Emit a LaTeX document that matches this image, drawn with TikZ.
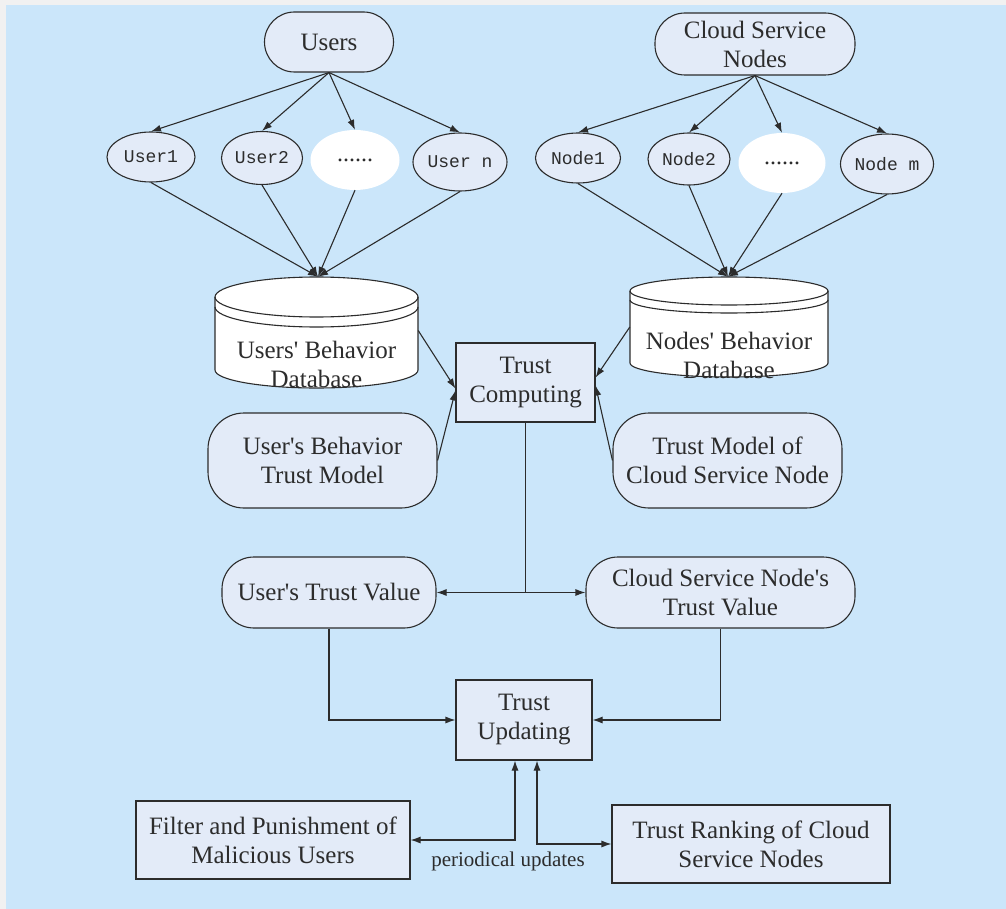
\documentclass[tikz,border=0pt]{standalone}
\usepackage{fontspec}
\setmainfont{Liberation Serif}
\newfontfamily\monofont{Liberation Mono}
\usetikzlibrary{shapes.geometric,arrows.meta,calc}

\definecolor{bgblue}{HTML}{CBE6FA}
\definecolor{frame}{HTML}{F1F1F1}
\definecolor{boxfill}{HTML}{E3EBF8}
\definecolor{ink}{HTML}{2C2C2C}
\newcommand{\q}{\textquotesingle}

\begin{document}
\begin{tikzpicture}[x=1pt,y=-1pt,
  every node/.style={inner sep=0pt, text=ink, font=\fontsize{25}{29}\selectfont, align=center},
  base/.style={draw=ink, line width=1.1pt, fill=boxfill},
  pill/.style={base, rounded corners=30pt},
  softbox/.style={base, rounded corners=36pt},
  plainbox/.style={base, rectangle},
  member/.style={base, ellipse, font=\monofont\fontsize{18}{20}\selectfont},
  gap/.style={ellipse, fill=white, font=\fontsize{24}{26}\selectfont},
  link/.style={draw=ink, line width=1.1pt},
  arr/.style={link, -{Latex[length=10pt,width=7pt]}},
  arrboth/.style={link, {Latex[length=10pt,width=7pt]}-{Latex[length=10pt,width=7pt]}},
]
\useasboundingbox (0,0) rectangle (1006,909);
% page frame and background
\fill[frame] (0,0) rectangle (1006,909);
\fill[bgblue] (6,5) rectangle (1006,909);

% ---- top groups ----
\node[pill, minimum width=129pt, minimum height=60pt] (users) at (329,42) {Users};
\node[pill, minimum width=200pt, minimum height=62pt] (cloud) at (755,44) {Cloud Service\\Nodes};

\node[member, minimum width=88pt, minimum height=50pt] (u1) at (151,157) {User1};
\node[member, minimum width=81pt, minimum height=53pt] (u2) at (262,158) {User2};
\node[gap, minimum width=89pt, minimum height=60pt] (ud) at (355,160) {......};
\node[member, minimum width=94pt, minimum height=58pt] (un) at (460,162) {User n};

\node[member, minimum width=85pt, minimum height=50pt] (n1) at (578,158) {Node1};
\node[member, minimum width=82pt, minimum height=52pt] (n2) at (689,159) {Node2};
\node[gap, minimum width=87pt, minimum height=60pt] (nd) at (782,163) {......};
\node[member, minimum width=93pt, minimum height=60pt] (nm) at (887,164) {Node m};

\foreach \t in {u1,u2,ud,un} \draw[arr] (users.south) -- (\t.north);
\foreach \t in {n1,n2,nd,nm} \draw[arr] (cloud.south) -- (\t.north);

% ---- databases ----
\filldraw[fill=white, draw=ink, line width=1.1pt]
  (215,297) -- (215,370) arc[start angle=180,end angle=360,x radius=101.5pt,y radius=18pt]
  -- (418,297) arc[start angle=0,end angle=180,x radius=101.5pt,y radius=20pt] -- cycle;
\draw[link] (215,297) arc[start angle=180,end angle=360,x radius=101.5pt,y radius=20pt];
\draw[link] (215,307) arc[start angle=180,end angle=360,x radius=101.5pt,y radius=20pt];
\node[minimum width=203pt, minimum height=111pt] (udb) at (316.5,332.5) {};
\node (udbtext) at (316.5,364) {Users\q{} Behavior\\Database};

\filldraw[fill=white, draw=ink, line width=1.1pt]
  (630,291) -- (630,363) arc[start angle=180,end angle=360,x radius=99pt,y radius=14pt]
  -- (828,291) arc[start angle=0,end angle=180,x radius=99pt,y radius=14pt] -- cycle;
\draw[link] (630,291) arc[start angle=180,end angle=360,x radius=99pt,y radius=14pt];
\draw[link] (630,300) arc[start angle=180,end angle=360,x radius=99pt,y radius=13pt];
\node[minimum width=198pt, minimum height=100pt] (ndb) at (729,327) {};
\node (ndbtext) at (729,355) {Nodes\q{} Behavior\\Database};

\foreach \s in {u1,u2,ud,un} \draw[arr] (\s.south) -- ([xshift=1.5pt]udb.north);
\foreach \s in {n1,n2,nd,nm} \draw[arr] (\s.south) -- ([xshift=-1pt]ndb.north);

% ---- trust computing ----
\node[plainbox, minimum width=139pt, minimum height=79pt] (tc) at (525.5,382.5) {Trust\\Computing};
\node[softbox, minimum width=229pt, minimum height=95pt] (ubm) at (322.5,460.5) {User\q{}s Behavior\\Trust Model};
\node[softbox, minimum width=229pt, minimum height=95pt] (cbm) at (727.5,460.5) {Trust Model of\\Cloud Service Node};

\draw[arr] ([yshift=2pt]udb.east) -- ([yshift=-6pt]tc.west);
\draw[arr] (ubm.east) -- ([yshift=-8pt]tc.west);
\draw[arr] (ndb.west) -- ([yshift=5pt]tc.east);
\draw[arr] (cbm.west) -- ([yshift=-3pt]tc.east);

% ---- trust values ----
\node[pill, rounded corners=32pt, minimum width=214pt, minimum height=71pt] (utv) at (329,592.5) {User\q{}s Trust Value};
\node[pill, rounded corners=32pt, minimum width=269pt, minimum height=71pt] (ctv) at (720.5,592.5) {Cloud Service Node\q{}s\\Trust Value};

\draw[link] (tc.south) -- coordinate[pos=1] (split) (tc.south |- utv.east);
\draw[arr] (split) -- (utv.east);
\draw[arr] (split) -- (ctv.west);

% ---- trust updating ----
\node[plainbox, minimum width=136pt, minimum height=80pt] (tu) at (524,720) {Trust\\Updating};
\draw[arr] (utv.south) |- (tu.west);
\draw[arr] (ctv.south) |- (tu.east);

\node[plainbox, minimum width=274pt, minimum height=78pt] (filt) at (273,840) {Filter and Punishment of\\Malicious Users};
\node[plainbox, minimum width=278pt, minimum height=78pt] (rank) at (751,844) {Trust Ranking of Cloud\\Service Nodes};

\draw[arrboth] ([xshift=-9pt]tu.south) |- (filt.east);
\draw[arrboth] ([xshift=13pt]tu.south) |- (rank.west);
\node[font=\fontsize{21}{24}\selectfont] (period) at (508,861) {periodical updates};
\end{tikzpicture}
\end{document}
